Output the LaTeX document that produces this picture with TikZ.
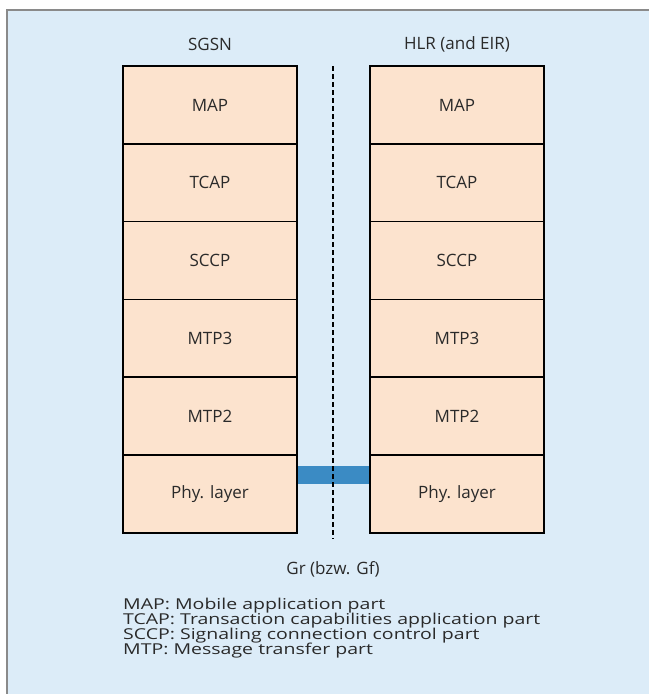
\documentclass[tikz,border=0pt]{standalone}
\usepackage{fontspec}
\setmainfont{Open Sans}
\newfontfamily\legfont[FakeStretch=1.3]{Open Sans}
\definecolor{bgblue}{HTML}{DCECF8}
\definecolor{peach}{HTML}{FCE3CE}
\definecolor{barblue}{HTML}{3B8BC4}
\definecolor{frame}{HTML}{8A8A8A}
\definecolor{txt}{HTML}{2A2A2A}
\begin{document}
\begin{tikzpicture}[x=1pt,y=-1pt,
  layer/.style={draw=black,line width=1.6pt,fill=peach,minimum width=174pt,minimum height=78pt,inner sep=0pt,text=txt,font=\fontsize{17}{19}\selectfont},
  lbl/.style={font=\fontsize{17}{19}\selectfont,text=txt,inner sep=0pt},
  legend/.style={font=\legfont\fontsize{15}{15}\selectfont,text=txt,inner sep=0pt,anchor=west}]
\useasboundingbox (0,0) rectangle (649,694);
\fill[white] (0,0) rectangle (649,694);
\fill[bgblue] (7,10) rectangle (649,694);
\draw[frame,line width=1.2pt] (7,694) -- (7,10) -- (649,10);
% stacks
\foreach \n/\t [count=\i from 0] in {a/MAP,b/TCAP,c/SCCP,d/MTP3,e/MTP2,f/Phy. layer}{
  \node[layer] (L\n) at (210,{105+77.8*\i}) {\t};
  \node[layer] (R\n) at (457,{105+77.8*\i}) {\t};
}
\node[lbl] (sgsn) at (210,44) {SGSN};
\node[lbl] (hlr) at (457,44) {HLR (and EIR)};
% blue bar
\fill[barblue] (Lf.east |- 0,466) rectangle (Rf.west |- 0,484);
% dashed line
\coordinate (dtop) at (333,66);
\coordinate (dbot) at (333,539);
\draw[black,line width=1.6pt,dash pattern=on 5pt off 3pt] (dtop) -- (dbot);
\node[lbl] (gr) at (333,569) {Gr (bzw. Gf)};
\node[legend] (l1) at (123,606) {MAP: Mobile application part};
\node[legend] (l2) at (123,621) {TCAP: Transaction capabilities application part};
\node[legend] (l3) at (123,636) {SCCP: Signaling connection control part};
\node[legend] (l4) at (123,651) {MTP: Message transfer part};
\end{tikzpicture}
\end{document}
